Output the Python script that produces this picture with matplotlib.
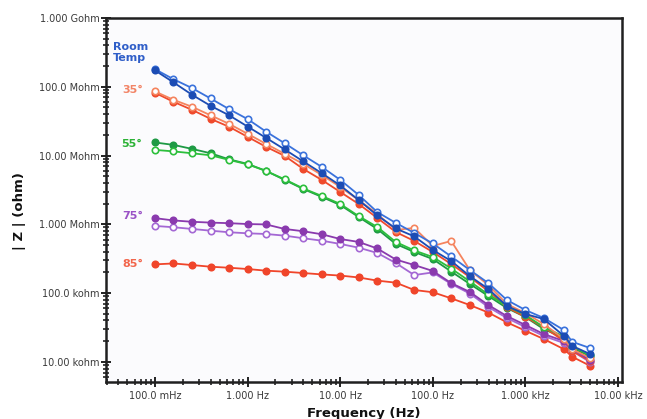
import numpy as np
import matplotlib
matplotlib.use("Agg")
import matplotlib.pyplot as plt
from matplotlib.ticker import LogLocator, FixedLocator, NullFormatter

freq = [0.1, 0.158, 0.251, 0.398, 0.631, 1.0, 1.58, 2.51, 3.98, 6.31,
        10.0, 15.8, 25.1, 39.8, 63.1, 100.0, 158.0, 251.0, 398.0, 631.0,
        1000.0, 1580.0, 2610.0, 3200.0, 5000.0]

# |Z| in ohm
rt_filled = [1.73e8, 1.16e8, 7.65e7, 5.29e7, 3.85e7, 2.64e7, 1.81e7, 1.23e7, 8.24e6, 5.55e6,
             3.68e6, 2.26e6, 1.35e6, 8.71e5, 6.67e5, 4.24e5, 2.93e5, 1.77e5, 1.15e5, 6.49e4,
             4.97e4, 4.20e4, 2.38e4, 1.71e4, 1.30e4]
rt_open = [1.80e8, 1.29e8, 9.57e7, 6.76e7, 4.73e7, 3.39e7, 2.23e7, 1.51e7, 1.01e7, 6.85e6,
           4.43e6, 2.68e6, 1.51e6, 1.05e6, 7.50e5, 5.27e5, 3.41e5, 2.17e5, 1.40e5, 7.94e4,
           5.68e4, 4.35e4, 2.90e4, 1.96e4, 1.59e4]
t35_filled = [8.18e7, 6.05e7, 4.62e7, 3.42e7, 2.62e7, 1.87e7, 1.34e7, 9.91e6, 6.40e6, 4.43e6,
              2.96e6, 1.98e6, 1.24e6, 7.74e5, 5.73e5, 3.96e5, 2.65e5, 1.71e5, 1.07e5, 6.28e4,
              4.49e4, 3.21e4, 2.01e4, 1.44e4, 1.03e4]
t35_open = [8.55e7, 6.47e7, 5.12e7, 3.85e7, 2.89e7, 2.07e7, 1.48e7, 1.06e7, 7.57e6, 5.24e6,
            3.50e6, 2.26e6, 1.42e6, 8.29e5, 8.87e5, 4.85e5, 5.73e5, 2.17e5, 1.31e5, 6.93e4,
            5.13e4, 3.55e4, 2.15e4, 1.53e4, 1.14e4]
t55_filled = [1.55e7, 1.43e7, 1.25e7, 1.08e7, 8.81e6, 7.57e6, 5.98e6, 4.43e6, 3.27e6, 2.51e6,
              1.91e6, 1.28e6, 8.57e5, 5.19e5, 3.96e5, 3.13e5, 2.06e5, 1.36e5, 9.08e4, 6.07e4,
              4.49e4, 3.00e4, 2.22e4, 1.59e4, 1.21e4]
t55_open = [1.21e7, 1.15e7, 1.08e7, 1.01e7, 8.65e6, 7.45e6, 5.98e6, 4.51e6, 3.33e6, 2.59e6,
            1.98e6, 1.32e6, 9.16e5, 5.55e5, 4.17e5, 3.35e5, 2.28e5, 1.48e5, 9.55e4, 6.49e4,
            4.80e4, 3.21e4, 2.33e4, 1.67e4, 1.26e4]
t75_filled = [1.23e6, 1.14e6, 1.09e6, 1.06e6, 1.04e6, 1.01e6, 9.97e5, 8.57e5, 7.94e5, 7.18e5,
              6.12e5, 5.55e5, 4.46e5, 3.08e5, 2.56e5, 2.10e5, 1.40e5, 1.04e5, 6.71e4, 4.64e4,
              3.44e4, 2.54e4, 2.01e4, 1.53e4, 1.06e4]
t75_open = [9.48e5, 9.08e5, 8.57e5, 8.09e5, 7.67e5, 7.41e5, 7.24e5, 6.85e5, 6.28e5, 5.79e5,
            5.19e5, 4.58e5, 3.84e5, 2.74e5, 1.83e5, 2.00e5, 1.36e5, 9.86e4, 6.28e4, 4.35e4,
            3.21e4, 2.38e4, 1.88e4, 1.44e4, 9.93e3]
t85 = [2.62e5, 2.70e5, 2.56e5, 2.42e5, 2.34e5, 2.24e5, 2.12e5, 2.05e5, 1.96e5, 1.87e5,
       1.80e5, 1.69e5, 1.52e5, 1.42e5, 1.11e5, 1.03e5, 8.40e4, 6.71e4, 5.22e4, 3.76e4,
       2.84e4, 2.15e4, 1.53e4, 1.19e4, 8.77e3]

yticks = [1e4, 1e5, 1e6, 1e7, 1e8, 1e9]
ylabels = ['10.00 kohm', '100.0 kohm', '1.000 Mohm', '10.00 Mohm', '100.0 Mohm', '1.000 Gohm']
xticks = [0.1, 1, 10, 100, 1000, 10000]
xlabels = ['100.0 mHz', '1.000 Hz', '10.00 Hz', '100.0 Hz', '1.000 kHz', '10.00 kHz']

fig = plt.figure(figsize=(6.47, 4.19), dpi=100)
ax = fig.add_axes([0.164, 0.088, 0.797, 0.869])
ax.set_facecolor('#fbfbfd')

def series(y, color, filled, z):
    ax.plot(freq, y, '-o', color=color, lw=1.3, ms=4.6, mew=1.2,
            mfc=color if filled else 'white', mec=color, zorder=z)

series(t85, '#f0452a', True, 3)
series(t75_open, '#a468d4', False, 3)
series(t75_filled, '#8a3aae', True, 4)
series(t55_filled, '#1e9a44', True, 3)
series(t55_open, '#2cbf3c', False, 4)
series(t35_filled, '#ef4a2c', True, 3)
series(t35_open, '#f5845e', False, 4)
series(rt_open, '#3a72dc', False, 5)
series(rt_filled, '#1c4cb4', True, 6)

ax.set_xscale('log')
ax.set_yscale('log')
ax.set_xlim(0.0296, 1.1e4)
ax.set_ylim(5.08e3, 1e9)

ax.xaxis.set_major_locator(FixedLocator(xticks))
ax.set_xticklabels(xlabels)
ax.yaxis.set_major_locator(FixedLocator(yticks))
ax.set_yticklabels(ylabels)
ax.xaxis.set_minor_locator(LogLocator(base=10, subs=np.arange(2, 10)))
ax.yaxis.set_minor_locator(LogLocator(base=10, subs=np.arange(2, 10)))
ax.xaxis.set_minor_formatter(NullFormatter())
ax.yaxis.set_minor_formatter(NullFormatter())
ax.tick_params(which='major', direction='inout', length=7, width=1.3, color='#111111',
               labelsize=7, labelcolor='#3a3a3a', pad=1)
ax.tick_params(which='minor', direction='inout', length=5, width=1.1, color='#111111')
ax.tick_params(axis='x', which='major', pad=3)

for s in ax.spines.values():
    s.set_color('#202020')
    s.set_linewidth(1.8)

ax.set_xlabel('Frequency (Hz)', fontsize=9.5, fontweight='bold', color='#111111', labelpad=4)
ax.set_ylabel('| Z | (ohm)', fontsize=9.5, fontweight='bold', color='#111111')
ax.yaxis.set_label_coords(-0.155, 0.47)

tkw = dict(transform=ax.transAxes, fontsize=8, fontweight='bold', ha='left', va='center')
ax.text(0.014, 0.905, 'Room\nTemp', color='#2f5ec8', linespacing=1.05, **tkw)
ax.text(0.032, 0.802, '35°', color='#f28466', **tkw)
ax.text(0.030, 0.653, '55°', color='#2cb236', **tkw)
ax.text(0.032, 0.455, '75°', color='#9a52c6', **tkw)
ax.text(0.032, 0.325, '85°', color='#f2664c', **tkw)

fig.savefig('out.png', dpi=100)
